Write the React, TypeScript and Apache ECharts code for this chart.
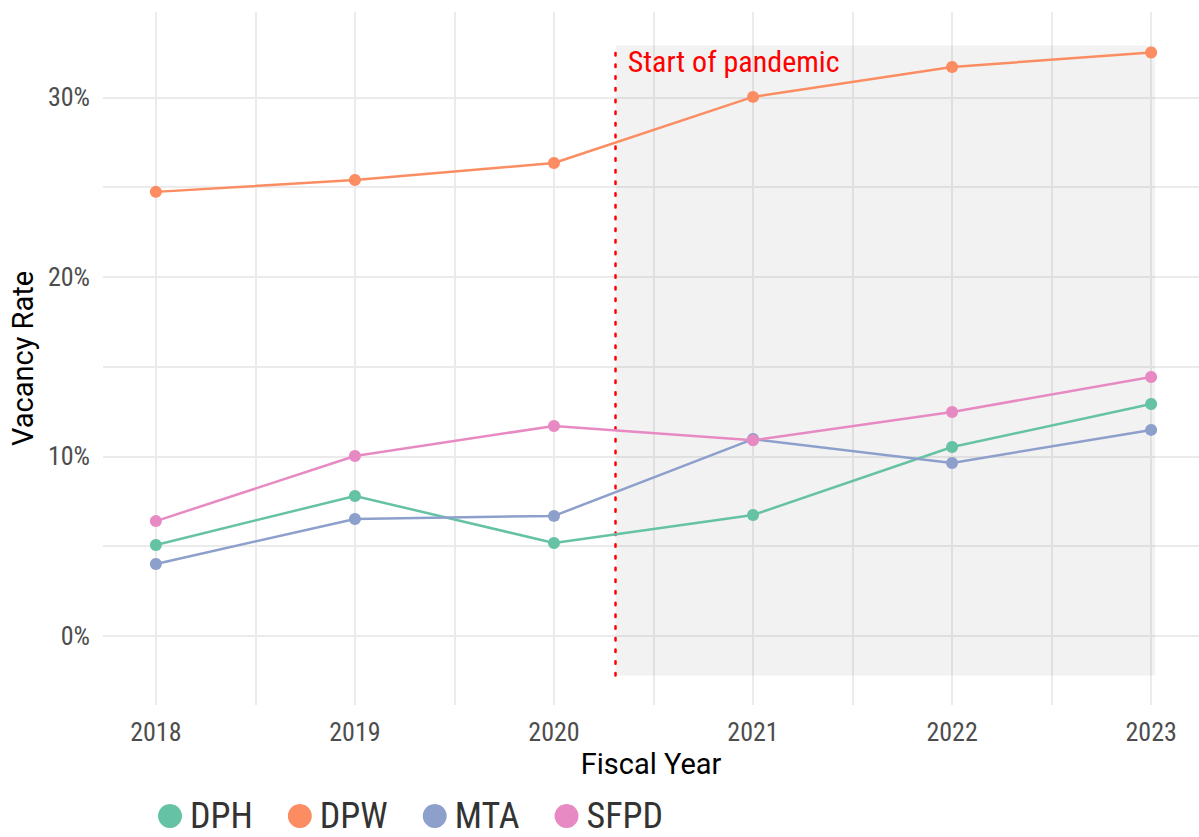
import React, { useEffect, useRef } from "react";
import * as echarts from "echarts";

const years = [2018, 2019, 2020, 2021, 2022, 2023];
const dph = [5.07, 7.8, 5.18, 6.74, 10.53, 12.92];
const dpw = [24.74, 25.4, 26.35, 30.03, 31.7, 32.5];
const mta = [4.01, 6.52, 6.69, 10.97, 9.64, 11.48];
const sfpd = [6.4, 10.03, 11.7, 10.9, 12.48, 14.43];
const seriesNames = ["DPH", "DPW", "MTA", "SFPD"];
const seriesColors = ["#66c2a5", "#fc8d62", "#8da0cb", "#e78ac3"];
const xGridValues = [2018, 2018.5, 2019, 2019.5, 2020, 2020.5, 2021, 2021.5, 2022, 2022.5, 2023];
const yTickValues = [0, 10, 20, 30];
const yGridValues = [0, 5, 10, 15, 20, 25, 30];
const pandemicStart = 2020.31;
const shadeEnd = 2023.02;
const shadeLow = -2.2;
const shadeHigh = 32.9;
const annotationY = 31.98;
const annotationText = "Start of pandemic";

const FONT_C = "'Roboto Condensed', 'Liberation Sans Narrow', Roboto, sans-serif";
const FONT_R = "Roboto, 'Noto Sans', sans-serif";

export default function App() {
  const ref = useRef<HTMLDivElement>(null);
  useEffect(() => {
    document.body.style.margin = "0";
    const chart = echarts.init(ref.current!, null, { renderer: "svg" });
    const allData = [dph, dpw, mta, sfpd];
    const series: any[] = seriesNames.map((name, i) => ({
      name,
      type: "line",
      data: years.map((y, j) => [y, allData[i][j]]),
      symbol: "circle",
      symbolSize: 12,
      itemStyle: { color: seriesColors[i] },
      lineStyle: { width: 2.5, color: seriesColors[i] },
      z: 5,
    }));
    series.push({
      name: "annot",
      type: "line",
      data: [],
      silent: true,
      z: 3,
      markArea: {
        silent: true,
        itemStyle: { color: "rgba(0,0,0,0.05)" },
        data: [[{ coord: [pandemicStart, shadeLow] }, { coord: [shadeEnd, shadeHigh] }]],
      },
      markLine: {
        silent: true,
        symbol: "none",
        label: { show: false },
        lineStyle: { color: "#ff0000", type: [2.5, 9.2], width: 2.5, cap: "round" },
        data: [[{ coord: [pandemicStart, shadeLow] }, { coord: [pandemicStart, shadeHigh] }]],
      },
      markPoint: {
        silent: true,
        symbol: "circle",
        symbolSize: 0,
        label: {
          show: true,
          position: "right",
          distance: 12,
          formatter: annotationText,
          color: "#ff0000",
          fontSize: 30,
          fontFamily: FONT_C,
        },
        data: [{ coord: [pandemicStart, annotationY] }],
      },
    });
    chart.setOption({
      animation: false,
      backgroundColor: "#ffffff",
      grid: { left: 100, right: 0, top: 12, bottom: 132 },
      legend: {
        data: seriesNames,
        left: 153,
        top: 793,
        icon: "circle",
        itemWidth: 24,
        itemHeight: 24,
        itemGap: 35,
        textStyle: {
          fontSize: 36,
          lineHeight: 36,
          color: "#333333",
          fontFamily: FONT_C,
          padding: [0, 0, 0, 3],
        },
      },
      xAxis: {
        type: "value",
        min: 2017.7345,
        max: 2023.2405,
        name: "Fiscal Year",
        nameLocation: "middle",
        nameGap: 42,
        nameTextStyle: { fontSize: 29, color: "#000000", fontFamily: FONT_R },
        axisLine: { show: false },
        axisTick: { show: false, customValues: xGridValues },
        axisLabel: {
          customValues: years,
          margin: 14,
          fontSize: 26,
          color: "#4d4d4d",
          fontFamily: FONT_C,
          formatter: (v: number) => String(v),
        },
        splitLine: { show: true, lineStyle: { color: "#ebebeb", width: 2 } },
      },
      yAxis: {
        type: "value",
        min: -3.844,
        max: 34.76,
        name: "Vacancy Rate",
        nameLocation: "middle",
        nameGap: 62,
        nameTextStyle: { fontSize: 29, color: "#000000", fontFamily: FONT_R },
        axisLine: { show: false },
        axisTick: { show: false, customValues: yGridValues },
        axisLabel: {
          customValues: yTickValues,
          margin: 13,
          fontSize: 26,
          color: "#4d4d4d",
          fontFamily: FONT_C,
          formatter: (v: number) => v + "%",
        },
        splitLine: { show: true, lineStyle: { color: "#ebebeb", width: 2 } },
      },
      series,
    });
    return () => chart.dispose();
  }, []);
  return <div ref={ref} style={{ width: 1199, height: 837 }} />;
}
